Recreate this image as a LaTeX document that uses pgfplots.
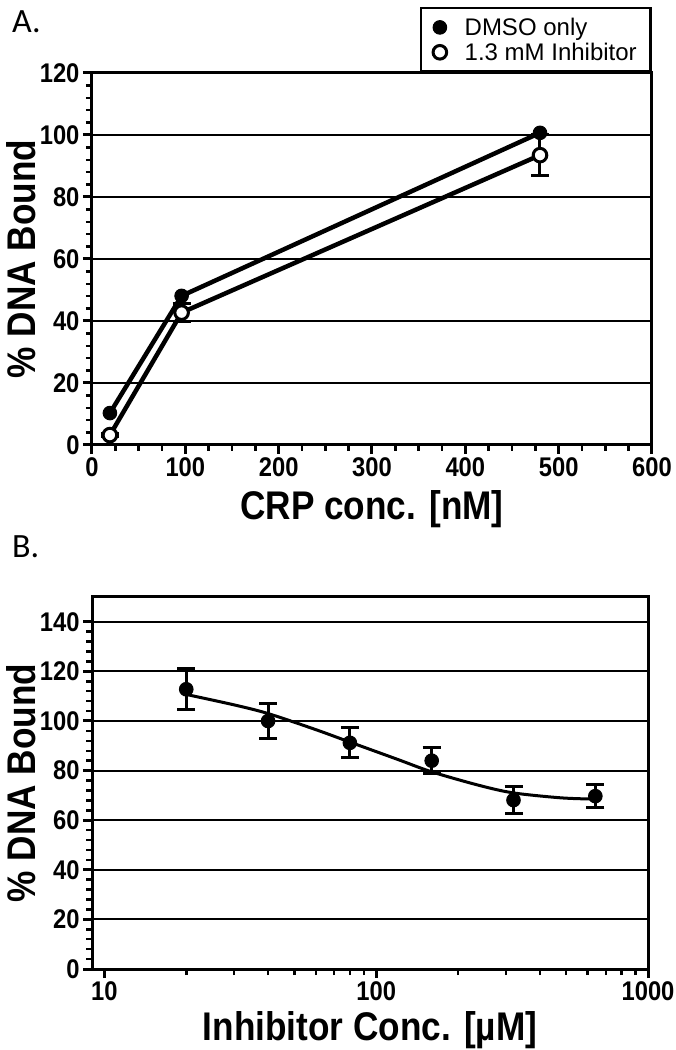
\documentclass[border=0pt]{standalone}
\usepackage{fontspec}
\setmainfont{Liberation Sans}
\newfontfamily\gpfont{Liberation Sans}[FakeStretch=0.88]
\newfontfamily\panelfont{Carlito}
\usepackage{pgfplots}
\pgfplotsset{compat=1.18}

\pgfplotsset{
  gp/.style={
    scale only axis,
    clip=false,
    axis line style={line width=3pt},
    tick align=outside,
    tick pos=left,
    major tick length=9pt,
    minor tick length=6pt,
    major tick style={black, line width=3pt},
    minor tick style={black, line width=2.5pt},
    ymajorgrids,
    grid style={black, line width=2pt},
    tick label style={font=\gpfont\fontsize{27}{27}\selectfont\bfseries},
    /pgf/number format/assume math mode=true,
    label style={font=\gpfont\fontsize{40}{40}\selectfont\bfseries},
  },
  errs/.style={
    error bars/.cd, y dir=both, y explicit,
    error bar style={line width=3pt},
    error mark options={rotate=90, mark size=9pt, line width=3pt},
  },
}

\begin{document}
\begin{tikzpicture}
\useasboundingbox (0,0) rectangle (675pt,1050pt);

% panel A
\begin{axis}[gp,
  at={(92pt,605pt)}, anchor=south west,
  width=560pt, height=372pt,
  xmin=0, xmax=600, ymin=0, ymax=120,
  xtick={0,100,...,600}, ytick={0,20,...,120},
  minor x tick num=3, minor y tick num=4,
  xlabel={CRP conc. [nM]},
  ylabel={\% DNA Bound},
  xlabel style={at={(axis description cs:0.5,-0.2016)}, anchor=base},
  ylabel style={at={(axis description cs:-0.1,0.5)}, anchor=base},
  legend style={at={(rel axis cs:1,1)}, anchor=south east,
    draw=black, line width=2.5pt,
    font=\fontsize{24}{26}\selectfont,
    inner xsep=12pt, inner ysep=8pt, row sep=2pt,
    /tikz/every odd column/.append style={column sep=16pt}},
  legend cell align=left,
  reverse legend,
  legend image code/.code={\draw[#1] plot coordinates {(0pt,0pt)};},
]
\addplot[black, line width=4.5pt, mark=*, mark size=6.8pt,
  mark options={fill=white, draw=black, line width=3pt},
  errs] coordinates {
  (19.2,3.2) +- (0,0.5)
  (96,42.7) +- (0,3)
  (480,93.5) +- (0,6.5)
};
\addplot[black, line width=4.5pt, mark=*, mark size=6.8pt,
  mark options={fill=black, line width=1pt}] coordinates {
  (19.2,10.3)
  (96,48.1)
  (480,100.7)
};
\legend{1.3 mM Inhibitor, DMSO only}
\end{axis}

% panel B
\begin{axis}[gp,
  at={(92pt,81pt)}, anchor=south west,
  width=556pt, height=372pt,
  xmode=log, xmin=9, xmax=1000, ymin=0, ymax=150,
  xtick={10,100,1000}, xticklabels={10,100,1000},
  ytick={0,20,...,140}, minor y tick num=4,
  xlabel={Inhibitor Conc. [µM]},
  ylabel={\% DNA Bound},
  xlabel style={at={(axis description cs:0.5,-0.191)}, anchor=base},
  ylabel style={at={(axis description cs:-0.101,0.5)}, anchor=base},
]
\addplot[black, line width=3pt, smooth] coordinates {
  (20,110.7) (30,106.5) (40,103) (60,96.5) (80,91.5) (120,84.5)
  (160,79.5) (240,74) (320,71) (480,69) (640,68.5)
};
\addplot[black, only marks, mark=*, mark size=6.8pt,
  mark options={fill=black, line width=1pt}, errs] coordinates {
  (20,112.8) +- (0,8.2)
  (40,100) +- (0,7)
  (80,91.2) +- (0,6)
  (160,84) +- (0,5.3)
  (320,68.1) +- (0,5.3)
  (640,69.7) +- (0,4.5)
};
\end{axis}

\node[font=\panelfont\fontsize{34}{34}\selectfont, anchor=base west, inner sep=0pt] at (12pt,1017pt) {A.};
\node[font=\panelfont\fontsize{34}{34}\selectfont, anchor=base west, inner sep=0pt] at (12pt,492pt) {B.};
\end{tikzpicture}
\end{document}
